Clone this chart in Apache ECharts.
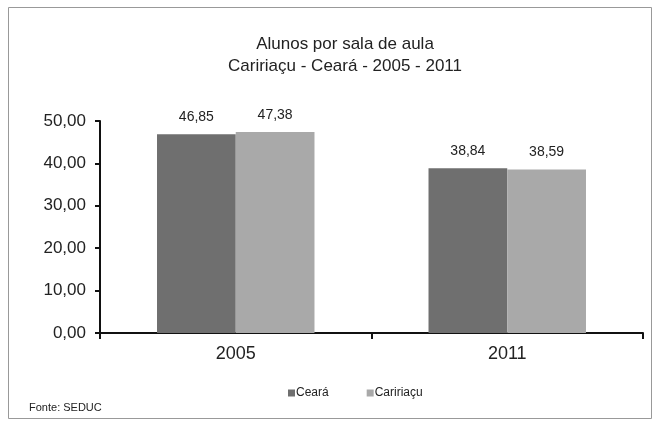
<!DOCTYPE html>
<html>
<head>
<meta charset="utf-8">
<script src="https://cdn.jsdelivr.net/npm/echarts@6/dist/echarts.min.js"></script>
<style>
html,body{margin:0;padding:0;background:#fff;}
#chart{width:661px;height:428px;}
</style>
</head>
<body>
<div id="chart"></div>
<script>
// dados
var anos = ['2005', '2011'];
var ceara = [46.85, 38.84];
var caririacu = [47.38, 38.59];

function fmt(v) {
  return v.toFixed(2).replace('.', ',');
}

var chart = echarts.init(document.getElementById('chart'));
var font = 'Liberation Sans, Arial, sans-serif';

var option = {
  backgroundColor: '#fff',
  animation: false,
  title: {
    text: 'Alunos por sala de aula\nCaririaçu - Ceará - 2005 - 2011',
    left: 340,
    top: 28,
    textAlign: 'center',
    textStyle: { fontFamily: font, fontSize: 17, fontWeight: 'normal', color: '#222', lineHeight: 22 }
  },
  legend: {
    data: ['Ceará', 'Caririaçu'],
    left: 283,
    top: 382,
    itemWidth: 7,
    itemHeight: 7,
    itemGap: 38,
    icon: 'rect',
    textStyle: { fontFamily: font, fontSize: 12, color: '#222', padding: [0, 0, 0, -4] }
  },
  grid: { left: 100, right: 18, top: 121, bottom: 95, containLabel: false },
  xAxis: {
    type: 'category',
    data: anos,
    axisLine: { lineStyle: { color: '#111', width: 2 } },
    axisTick: { show: true, alignWithLabel: false, length: 6, lineStyle: { color: '#111', width: 2 } },
    axisLabel: { fontFamily: font, fontSize: 18, color: '#222', margin: 12 }
  },
  yAxis: {
    type: 'value',
    min: 0,
    max: 50,
    interval: 10,
    axisLine: { show: true, lineStyle: { color: '#111', width: 2 } },
    axisTick: { show: true, length: 5, lineStyle: { color: '#111', width: 2 } },
    splitLine: { show: false },
    axisLabel: { fontFamily: font, fontSize: 17, color: '#222', margin: 14, formatter: fmt }
  },
  series: [
    {
      name: 'Ceará',
      type: 'bar',
      data: ceara,
      barGap: '0%',
      barCategoryGap: '42%',
      itemStyle: { color: '#6f6f6f' },
      label: { show: true, position: 'top', distance: 10, fontFamily: font, fontSize: 14, color: '#222', formatter: function (p) { return fmt(p.value); } }
    },
    {
      name: 'Caririaçu',
      type: 'bar',
      data: caririacu,
      itemStyle: { color: '#a9a9a9' },
      label: { show: true, position: 'top', distance: 10, fontFamily: font, fontSize: 14, color: '#222', formatter: function (p) { return fmt(p.value); } }
    }
  ],
  graphic: [
    {
      type: 'rect',
      shape: { x: 8.5, y: 7.5, width: 643, height: 411 },
      style: { fill: 'none', stroke: '#999', lineWidth: 1 },
      silent: true
    },
    {
      type: 'text',
      left: 29,
      top: 402,
      style: { text: 'Fonte: SEDUC', fontFamily: font, fontSize: 11, fill: '#222' }
    }
  ]
};

chart.setOption(option);
</script>
</body>
</html>
